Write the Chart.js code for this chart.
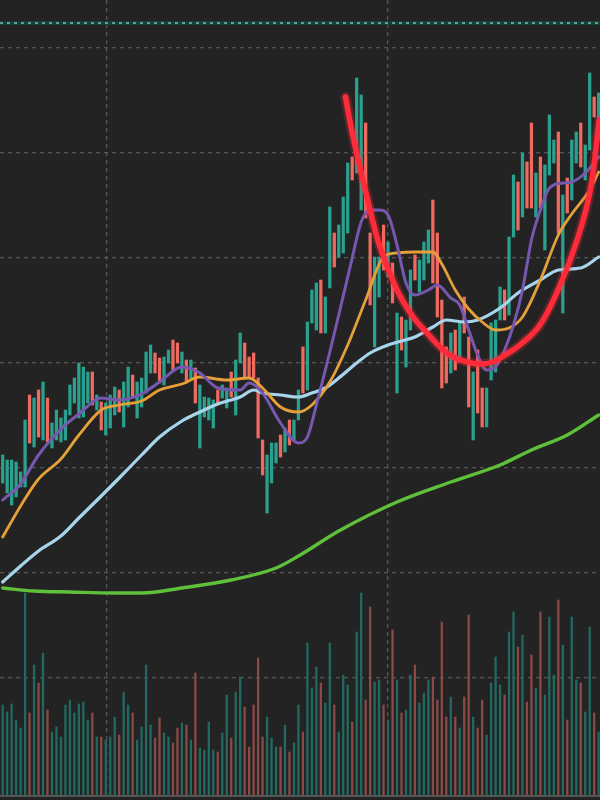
<!DOCTYPE html>
<html><head><meta charset="utf-8">
<script src="https://cdn.jsdelivr.net/npm/chart.js@4.4.1/dist/chart.umd.min.js"></script>
<style>html,body{margin:0;padding:0;background:#232323;overflow:hidden}#wrap{width:600px;height:800px;position:relative}</style>
</head><body><div id="wrap"><canvas id="c" width="600" height="800"></canvas></div>
<script>
// ---- data ----
const candleHigh = [34.5,34.0,34.0,33.8,32.8,38.0,40.5,40.2,41.0,41.8,
  40.2,37.7,39.0,38.2,39.0,41.5,42.2,43.7,43.3,42.8,
  42.8,40.5,39.8,39.7,40.5,41.3,41.0,41.8,43.3,42.5,
  41.8,42.2,44.8,45.5,44.7,44.2,44.3,45.0,46.0,45.7,
  44.8,44.0,44.0,43.2,41.5,40.3,40.2,40.0,41.0,41.5,
  41.2,42.8,44.0,46.7,45.7,44.3,44.7,42.2,36.0,34.5,
  35.7,35.7,36.5,37.2,38.0,38.0,41.0,45.3,47.8,51.0,
  51.7,52.0,50.3,59.3,56.7,57.5,60.3,63.7,64.3,72.2,
  70.5,67.7,56.7,54.3,54.3,57.5,55.8,53.7,48.7,48.3,
  48.0,53.0,54.5,54.0,55.8,57.0,60.0,56.7,50.0,45.3,
  46.7,47.0,47.7,50.3,46.3,42.8,45.0,41.2,41.2,47.7,
  48.0,51.3,51.0,56.3,62.5,61.8,64.7,63.8,67.7,62.7,
  64.3,63.5,68.5,66.0,66.8,60.5,62.2,66.0,66.8,67.7,
  65.5,72.7,70.3,70.7];
const candleLow = [31.7,30.7,29.5,30.3,31.3,31.3,35.7,35.3,36.3,36.0,
  35.8,35.2,36.0,35.8,36.0,38.5,39.7,38.2,38.3,39.7,
  39.5,39.0,37.0,36.5,37.2,38.5,38.8,37.3,39.3,40.3,
  38.2,39.3,40.7,42.7,42.7,41.7,41.5,43.7,43.0,43.7,
  42.7,41.7,42.0,39.7,35.2,38.3,38.0,37.2,39.7,40.2,
  39.2,40.3,38.5,43.7,42.3,42.3,42.2,36.2,32.5,28.7,
  31.7,33.7,34.3,34.8,35.5,36.0,38.0,40.7,41.0,47.7,
  47.0,46.7,46.7,51.2,53.3,54.3,54.7,56.7,62.0,62.7,
  59.0,58.2,49.5,45.3,50.3,53.0,52.3,49.7,40.7,45.0,
  43.3,47.0,52.0,50.8,52.0,53.7,51.7,48.3,41.2,41.7,
  42.7,43.0,44.3,46.7,39.3,36.0,38.7,37.3,37.3,42.0,
  42.8,48.0,48.0,48.5,56.3,57.0,58.3,59.2,59.2,58.3,
  59.2,55.0,62.5,63.7,56.7,48.7,58.7,60.0,63.7,63.3,
  62.0,65.0,68.3,66.0];
// u = up (teal), d = down (red)
const candleDir = ["uuuuuududu","duuuuuuuuu","duduuuduud","uuuudduudd","ududuuuudu",
  "uduudddddu","uududuuduu","uduuduuudu","udduududud","uuduuudddd",
  "ududdudduu","uuduududdu","duuududuud","uudu"].join("").split("");
const volume = [90,83,91,75,67,202,82,130,112,142,
  85,63,68,58,90,95,82,91,93,75,
  82,58,58,55,58,78,60,103,90,82,
  55,68,130,70,57,77,62,58,52,67,
  72,70,55,122,47,45,73,45,43,62,
  100,57,103,118,88,48,90,137,58,78,
  57,48,48,70,43,52,90,63,152,107,
  128,112,92,152,90,63,120,110,73,163,
  202,95,188,113,115,90,75,165,115,82,
  85,120,130,92,102,115,118,95,173,78,
  98,78,67,98,180,78,67,95,60,112,
  138,110,100,163,183,148,160,93,140,107,
  183,100,178,120,195,150,75,178,115,112,
  83,168,82,63];

// moving averages sampled at bar indices
const purpleIdx = [0,4,8,13,17,22,26,31,35,40,44,48,53,55,58,62,66,68,70,73,75,78,80,82,84,86,88,90,92,95,97,100,102,104,106,108,110,112,114,116,118,120,122,125,127,130,133];
const purpleVal = [30.0,31.6,34.5,37.1,38.6,40.2,40.0,40.6,41.8,43.3,42.7,41.2,41.0,41.7,40.7,37.7,35.7,36.3,39.5,44.8,48.5,54.2,57.8,59.0,59.0,58.5,55.5,51.7,50.5,51.0,51.5,50.2,49.5,47.0,44.5,43.0,43.3,45.0,47.5,51.0,56.0,59.0,61.2,61.7,61.8,62.7,64.3];
const orangeIdx = [0,4,8,13,17,22,26,31,35,40,44,50,55,58,62,66,69,73,77,81,85,88,92,96,98,101,104,107,110,113,116,120,124,127,131,133];
const orangeVal = [26.3,29.4,32.1,34.1,36.5,39.0,39.5,39.9,41.0,41.6,42.3,42.0,42.2,41.2,39.3,38.8,39.5,41.8,45.5,50.0,54.3,54.7,54.8,54.8,53.6,51.0,49.1,47.8,47.0,47.2,48.3,52.0,56.5,58.6,61.0,62.8];
const blueIdx = [0,4,8,13,17,22,26,31,35,40,44,48,53,56,58,62,66,69,72,75,79,82,86,89,92,96,99,103,106,111,115,120,124,129,133];
const blueVal = [21.8,23.4,24.9,26.4,28.2,30.4,32.2,34.5,36.3,37.9,38.8,39.6,40.3,41.0,40.7,40.5,40.3,40.7,41.2,42.2,43.7,44.7,45.5,45.9,46.3,47.3,48.0,47.8,48.0,49.2,50.7,52.0,53.0,53.2,54.3];
const greenIdx = [0,7,15,25,31,40,51,61,66,75,88,100,111,118,126,133];
const greenVal = [21.2,20.9,20.8,20.7,20.7,21.2,22.0,23.2,24.4,26.9,29.8,31.8,33.5,35.0,36.5,38.5];

// hand-drawn red curve annotation
const curveX = [76.5,78.2,81.3,84.2,88.0,91.6,94.7,97.6,100.5,103.6,106.5,109.4,112.1,115.4,119.9,124.4,128.2,131.1,133.1];
const curveY = [70.3,66.3,60.3,55.3,51.0,48.3,46.7,45.3,44.3,43.8,43.6,43.8,44.5,45.5,47.5,51.5,56.0,60.9,68.0];

const lastPrice = 77.7;
const priceGrid = [75.2,64.7,54.2,43.7,33.2,22.7,12.2];
const timeGrid = [23.3,86.0];

// ---- chart ----
const up = '#2aa18f', down = '#ef6a5f';
const vUp = '#226a61', vDown = '#8c4a46';
const pts = (xs, ys) => xs.map((x, i) => ({x, y: ys[i]}));
const candles = candleHigh.map((h, i) => ({x: i, y: [candleLow[i], h]}));
const vols = volume.map((v, i) => ({x: i, y: v}));
const X0 = -0.6, X1 = 133.3;

const lineDs = (data, color, width, order) => ({
  type: 'line', data, borderColor: color, borderWidth: width, pointRadius: 0,
  cubicInterpolationMode: 'monotone', yAxisID: 'y', order, borderCapStyle: 'round'
});

new Chart(document.getElementById('c'), {
  type: 'bar',
  data: {
    datasets: [
      {type:'line', data: pts(curveX, curveY), borderColor:'#ff2b3a', borderWidth:5.5, pointRadius:0, tension:0.4, borderCapStyle:'round', yAxisID:'y', order:0},
      {type:'line', data: pts(curveX, curveY), borderColor:'rgba(255,50,60,0.25)', borderWidth:10, pointRadius:0, tension:0.4, borderCapStyle:'round', yAxisID:'y', order:1},
      lineDs(pts(purpleIdx, purpleVal), '#7658b0', 3, 2),
      lineDs(pts(orangeIdx, orangeVal), '#e5a03a', 2.8, 3),
      lineDs(pts(blueIdx, blueVal), '#a7d5ec', 3.2, 4),
      lineDs(pts(greenIdx, greenVal), '#5fc03a', 3.4, 5),
      {data: candles, backgroundColor: candleDir.map(d => d === 'u' ? up : down), barThickness: 2.6, grouped: false, yAxisID: 'y', order: 7},
      {data: vols, backgroundColor: candleDir.map(d => d === 'u' ? vUp : vDown), barThickness: 1.6, grouped: false, yAxisID: 'yv', order: 8},
      {type:'line', data: [{x:X0,y:lastPrice},{x:X1,y:lastPrice}], borderColor:'#7cc4b2', borderWidth:1.6, borderDash:[3,4], pointRadius:0, yAxisID:'y', order:9},
      {type:'line', data: [{x:X0,y:lastPrice},{x:X1,y:lastPrice}], borderColor:'#163f37', borderWidth:4, pointRadius:0, yAxisID:'y', order:10},
      {type:'line', data: [{x:X0,y:-1},{x:X1,y:-1}], borderColor:'#555555', borderWidth:2, pointRadius:0, yAxisID:'yv', order:11}
    ]
  },
  options: {
    responsive: false, animation: false, events: [],
    layout: {padding: 0},
    plugins: {legend: {display: false}, tooltip: {enabled: false}},
    scales: {
      x: {type:'linear', min: X0, max: X1, offset: false,
          afterBuildTicks: ax => { ax.ticks = timeGrid.map(v => ({value: v})); },
          ticks: {display: false}, grid: {color: 'rgba(105,105,105,0.7)', lineWidth: 1.3, drawTicks: false, offset: false},
          border: {display: false, dash: [4, 4]}},
      y: {type:'linear', min: 0, max: 80, position: 'left',
          afterBuildTicks: ax => { ax.ticks = priceGrid.map(v => ({value: v})); },
          ticks: {display: false}, grid: {color: 'rgba(105,105,105,0.7)', lineWidth: 1.3, drawTicks: false},
          border: {display: false, dash: [4, 4]}},
      yv: {type:'linear', min: -5, max: 795, display: false}
    }
  }
});
</script></body></html>
